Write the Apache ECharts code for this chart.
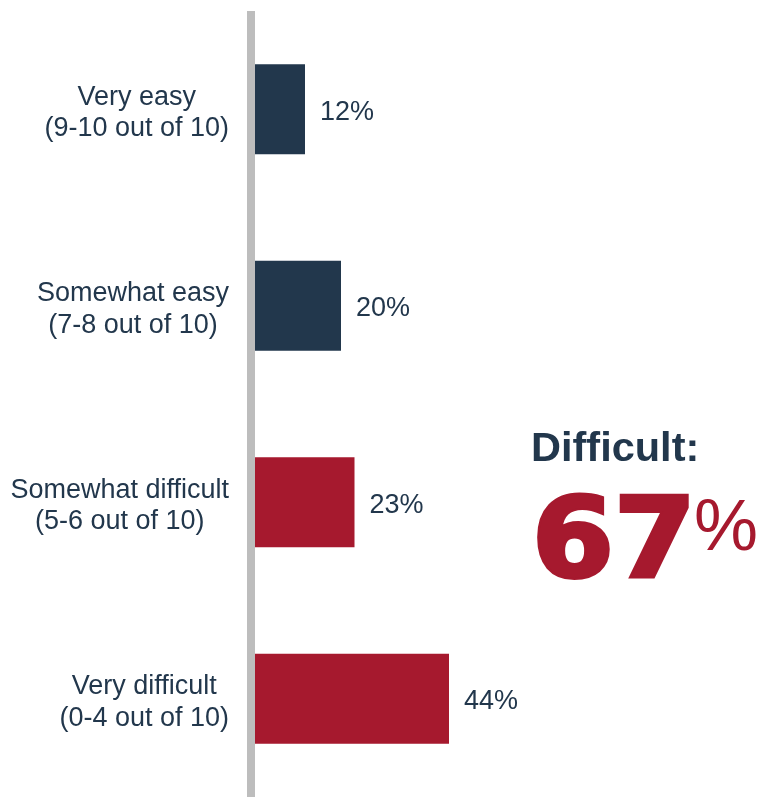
<!DOCTYPE html>
<html>
<head>
<meta charset="utf-8">
<style>
  html, body { margin: 0; padding: 0; background: #ffffff; }
  #chart { width: 761px; height: 797px; }
</style>
<script src="https://cdn.jsdelivr.net/npm/echarts@6/dist/echarts.min.js"></script>
</head>
<body>
<div id="chart"></div>
<script>
// Survey answers, top to bottom
const categories = [
  'Very easy\n(9-10 out of 10)',
  'Somewhat easy\n(7-8 out of 10)',
  'Somewhat difficult\n(5-6 out of 10)',
  'Very difficult\n(0-4 out of 10)'
];
const shares = [12, 20, 23, 44];
const isDifficult = [false, false, true, true];

const NAVY = '#22374C';
const RED = '#A6192E';
const TEXT = '#22374C';
const SANS = '"Liberation Sans", Arial, sans-serif';

// Combined share of the two "difficult" answers
const difficultTotal = shares.reduce((s, v, i) => s + (isDifficult[i] ? v : 0), 0);

const chart = echarts.init(document.getElementById('chart'));

chart.setOption({
  animation: false,
  backgroundColor: '#ffffff',
  grid: { left: 251, top: 11, width: 450, height: 791, containLabel: false },
  xAxis: {
    type: 'value', min: 0, max: 100, show: false
  },
  yAxis: {
    type: 'category',
    data: categories,
    inverse: true,
    z: 10,
    axisLine: { show: true, lineStyle: { color: '#BDBDBD', width: 8, cap: 'butt' } },
    axisTick: { show: false },
    splitLine: { show: false },
    axisLabel: {
      align: 'right',
      margin: 22,
      padding: [8, 0, 0, 0],
      formatter: (v) => v.split('\n').map(s => '{c|' + s + '}').join('\n'),
      rich: {
        c: {
          align: 'center',
          fontFamily: SANS,
          fontSize: 27,
          lineHeight: 31.5,
          color: TEXT
        }
      }
    }
  },
  series: [{
    type: 'bar',
    barWidth: 90,
    data: shares.map((v, i) => ({
      value: v,
      itemStyle: { color: isDifficult[i] ? RED : NAVY }
    })),
    label: {
      show: true,
      position: 'right',
      distance: 15,
      offset: [0, 3],
      formatter: (p) => p.value + '%',
      fontFamily: SANS,
      fontSize: 27,
      color: TEXT
    }
  }],
  graphic: [
    {
      type: 'text',
      x: 531, y: 449.5,
      style: {
        text: 'Difficult:',
        font: 'bold 41.5px ' + SANS,
        fill: TEXT,
        align: 'left',
        verticalAlign: 'middle'
      }
    },
    {
      type: 'text',
      x: 532, y: 547,
      scaleX: 1.07,
      style: {
        text: String(difficultTotal),
        font: 'bold 110px "DejaVu Sans", sans-serif',
        fill: RED,
        stroke: RED,
        lineWidth: 4,
        lineJoin: 'round',
        align: 'left',
        verticalAlign: 'middle'
      }
    },
    {
      type: 'text',
      x: 694, y: 530,
      style: {
        text: '%',
        font: '72px ' + SANS,
        fill: RED,
        align: 'left',
        verticalAlign: 'middle'
      }
    }
  ]
});
</script>
</body>
</html>
